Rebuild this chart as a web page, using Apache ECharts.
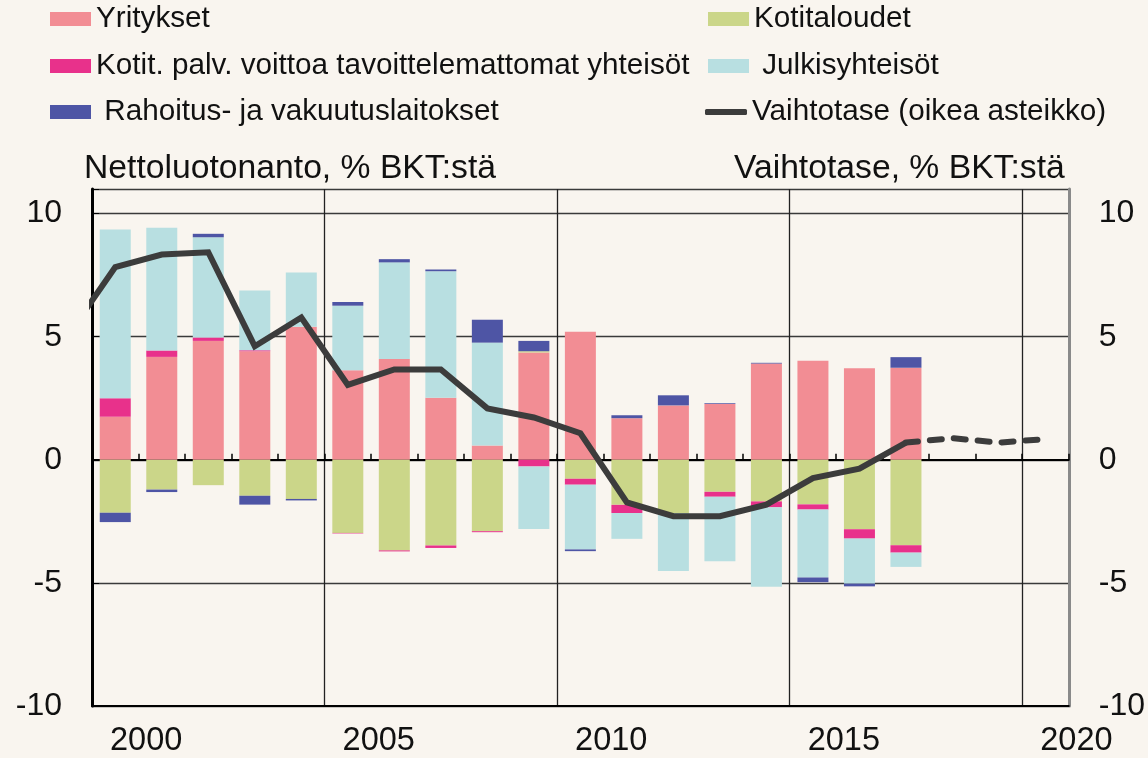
<!DOCTYPE html>
<html>
<head>
<meta charset="utf-8">
<script src="https://cdn.jsdelivr.net/npm/echarts@6/dist/echarts.min.js"></script>
<style>
  html, body { margin: 0; padding: 0; background: #f9f5ef; }
  #chart { width: 1148px; height: 758px; }
</style>
</head>
<body>
<div id="chart"></div>
<script>
/* ---------- data (% of GDP) ---------- */
const categories = ['2000', '2001', '2002', '2003', '2004', '2005', '2006', '2007', '2008', '2009',
  '2010', '2011', '2012', '2013', '2014', '2015', '2016', '2017', '2018', '2019', '2020'];

const yritykset    = [1.75, 4.18, 4.83, 4.41, 5.40, 3.64, 4.09, 2.52, 0.58, 4.36, 5.20, 1.69, 2.21, 2.27, 3.91, 4.02, 3.72, 3.74];
const kotitaloudet = [-2.15, -1.21, -1.03, -1.46, -1.59, -2.97, -3.68, -3.48, -2.90, 0.05, -0.77, -1.83, -2.16, -1.30, -1.69, -1.81, -2.82, -3.47];
const kotitPalv    = [0.75, 0.26, 0.14, 0.04, 0, -0.02, -0.04, -0.10, -0.04, -0.27, -0.24, -0.33, 0, -0.20, -0.24, -0.21, -0.38, -0.30];
const julkis       = [6.85, 4.99, 4.07, 2.43, 2.21, 2.62, 3.93, 5.14, 4.18, -2.54, -2.63, -1.05, -2.36, -2.62, -3.23, -2.76, -1.83, -0.58];
const rahoitus     = [-0.38, -0.10, 0.14, -0.36, -0.06, 0.15, 0.13, 0.07, 0.93, 0.42, -0.07, 0.12, 0.41, 0.03, 0.03, -0.19, -0.11, 0.43];

// vaihtotase: toteutunut ja ennuste (katkoviiva)
const vtYears    = [1999, 2000, 2001, 2002, 2003, 2004, 2005, 2006, 2007, 2008, 2009, 2010, 2011, 2012, 2013, 2014, 2015, 2016, 2017];
const vaihtotase = [5.1, 7.83, 8.34, 8.43, 4.61, 5.78, 3.04, 3.67, 3.67, 2.09, 1.72, 1.08, -1.73, -2.29, -2.29, -1.82, -0.74, -0.36, 0.70];
const ennYears   = [2017, 2018, 2019, 2020];
const ennuste    = [0.70, 0.88, 0.70, 0.84];

const xTickLabels = [2000, 2005, 2010, 2015, 2020];

/* ---------- style ---------- */
const FONT = '"Liberation Sans", Arial, sans-serif';
const colors = {
  yritykset: '#f28d94',
  kotitaloudet: '#cbd689',
  kotitPalv: '#e8318b',
  julkis: '#b8dfe1',
  rahoitus: '#4e55a5',
  line: '#3c3c3c',
};
const names = {
  yritykset: 'Yritykset',
  kotitaloudet: 'Kotitaloudet',
  kotitPalv: 'Kotit. palv. voittoa tavoittelemattomat yhteisöt',
  julkis: 'Julkisyhteisöt',
  rahoitus: 'Rahoitus- ja vakuutuslaitokset',
  line: 'Vaihtotase (oikea asteikko)',
};

// value x-axis: 0 = left edge of the 2000 bar slot
const toX = (year) => year - 1999.5;

function barSeries(key, values) {
  return {
    name: names[key],
    type: 'bar',
    stack: 'netto',
    xAxisIndex: 1,
    barWidth: 31,
    data: values,
    itemStyle: { color: colors[key] },
  };
}

function legendItem(key, left, top, icon) {
  const padName = key === 'julkis' || key === 'rahoitus';
  return {
    data: [names[key]],
    left, top,
    padding: 0,
    icon: icon || 'rect',
    itemWidth: icon ? 42 : 41,
    itemHeight: icon ? 6 : 14,
    itemGap: 0,
    formatter: (n) => (padName ? ' ' + n : n),
    textStyle: { fontFamily: FONT, fontSize: 29.7, color: '#111', lineHeight: 32 },
  };
}

const chart = echarts.init(document.getElementById('chart'));
chart.setOption({
  backgroundColor: '#f9f5ef',
  animation: false,
  textStyle: { fontFamily: FONT },
  grid: { left: 92, right: 79, top: 189, bottom: 51 },
  legend: [
    legendItem('yritykset', 50, 3),
    legendItem('kotitaloudet', 708, 3),
    legendItem('kotitPalv', 50, 50),
    legendItem('julkis', 708, 50),
    legendItem('rahoitus', 50, 96),
    legendItem('line', 705, 96, 'roundRect'),
  ],
  xAxis: [
    {
      type: 'value', min: 0, max: 21, interval: 5, position: 'bottom',
      axisLine: { onZero: false, lineStyle: { color: '#000', width: 2 } },
      axisTick: { show: false },
      splitLine: { show: true, lineStyle: { color: '#222', width: 1.3 } },
      axisLabel: {
        fontSize: 32.5, color: '#111', margin: 19, align: 'left', padding: [0, 0, 0, 18],
        formatter: (v) => (xTickLabels.includes(v + 2000) ? String(v + 2000) : ''),
      },
    },
    {
      type: 'category', data: categories, show: false, position: 'bottom',
      boundaryGap: true,
    },
    {
      type: 'value', min: 0, max: 21, interval: 1, position: 'top',
      axisLine: { onZero: true, lineStyle: { color: '#000', width: 2 } },
      axisTick: { show: true, inside: false, length: 6, lineStyle: { color: '#000', width: 1.5 } },
      axisLabel: { show: false },
      splitLine: { show: false },
    },
  ],
  yAxis: [
    {
      type: 'value', min: -10, max: 11, interval: 5, position: 'left',
      name: 'Nettoluotonanto, % BKT:stä', nameLocation: 'end', nameGap: 3,
      nameTextStyle: { fontSize: 33.7, color: '#111', align: 'left', padding: [0, 0, 0, -8] },
      axisLine: { show: true, onZero: false, lineStyle: { color: '#000', width: 3 } },
      axisTick: { show: true, inside: true, length: 7, lineStyle: { color: '#000' } },
      splitLine: { show: true, lineStyle: { color: '#3a3a3a', width: 1.3 } },
      axisLabel: { fontSize: 32, color: '#111', margin: 30, formatter: (v) => (v > 10 ? '' : String(v)) },
    },
    {
      type: 'value', min: -10, max: 11, interval: 5, position: 'right',
      name: 'Vaihtotase, % BKT:stä', nameLocation: 'end', nameGap: 3,
      nameTextStyle: { fontSize: 33.7, color: '#111', align: 'right', padding: [0, 4, 0, 0] },
      axisLine: { show: true, onZero: false, lineStyle: { color: '#8a8a8a', width: 3 } },
      axisTick: { show: false },
      splitLine: { show: false },
      axisLabel: { fontSize: 32, color: '#111', margin: 30, formatter: (v) => (v > 10 ? '' : String(v)) },
    },
  ],
  series: [
    barSeries('yritykset', yritykset),
    barSeries('kotitaloudet', kotitaloudet),
    barSeries('kotitPalv', kotitPalv),
    barSeries('julkis', julkis),
    barSeries('rahoitus', rahoitus),
    {
      name: names.line,
      type: 'line',
      xAxisIndex: 0,
      yAxisIndex: 1,
      symbol: 'none',
      z: 5,
      data: vtYears.map((y, i) => [toX(y), vaihtotase[i]]),
      itemStyle: { color: colors.line },
      lineStyle: { color: colors.line, width: 6, join: 'miter' },
    },
    {
      name: 'Vaihtotase ennuste',
      type: 'line',
      xAxisIndex: 0,
      yAxisIndex: 1,
      symbol: 'none',
      z: 5,
      data: ennYears.map((y, i) => [toX(y), ennuste[i]]),
      lineStyle: { color: colors.line, width: 6, type: [12, 12], cap: 'round' },
    },
  ],
});
</script>
</body>
</html>
